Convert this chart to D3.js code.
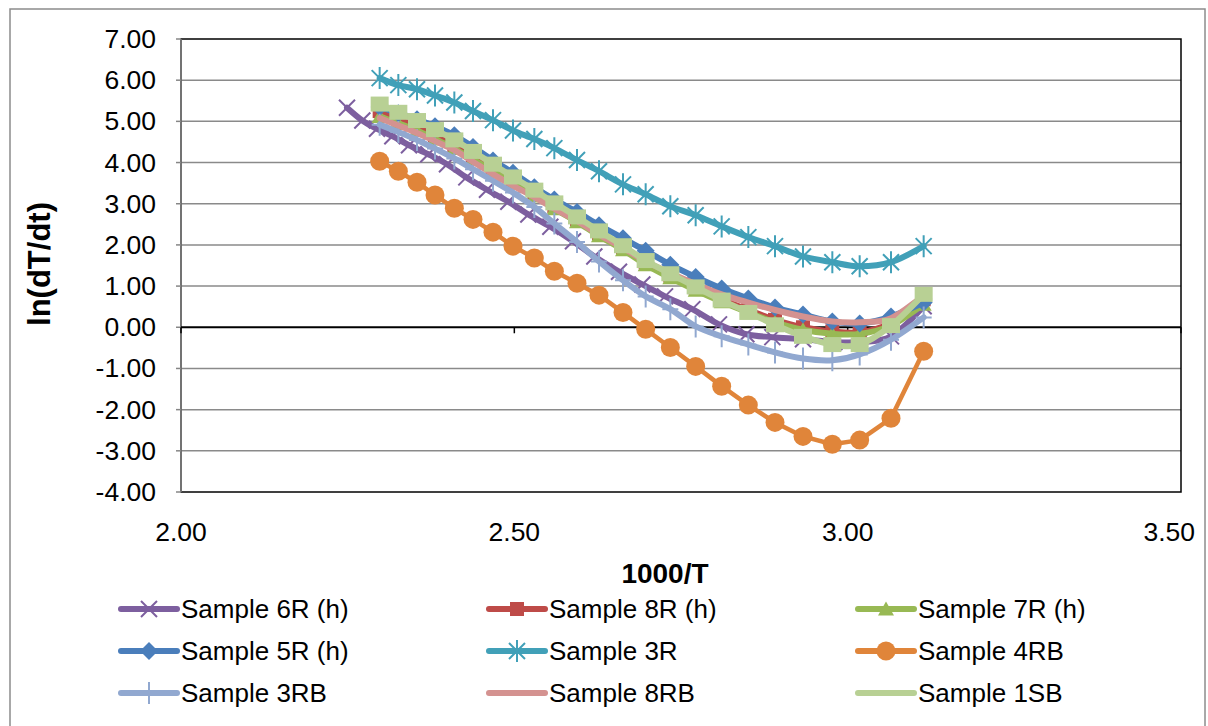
<!DOCTYPE html>
<html>
<head>
<meta charset="utf-8">
<script src="https://cdn.jsdelivr.net/npm/d3@7"></script>
<style>
body { margin: 0; background: #fff; }
svg { display: block; font-family: Arial, "Liberation Sans", sans-serif; }
</style>
</head>
<body>
<svg id="chart" width="1208" height="726"></svg>
<script>

// x values (1000/T) shared by most series
const xMain = [2.298, 2.326, 2.354, 2.381, 2.410, 2.438, 2.468, 2.498, 2.530, 2.560, 2.594, 2.627,
	2.663, 2.697, 2.734, 2.772, 2.811, 2.851, 2.891, 2.933, 2.977, 3.018, 3.065, 3.114];
// sample 6R was logged on its own temperature steps
const x6R = [2.249, 2.272, 2.294, 2.317, 2.342, 2.371, 2.399, 2.428, 2.459, 2.491, 2.521, 2.554, 2.588,
	2.620, 2.657, 2.692, 2.726, 2.767, 2.807, 2.848, 2.887, 2.933, 2.980, 3.018, 3.065, 3.114];

const y6R = [5.33, 5.02, 4.82, 4.64, 4.42, 4.20, 3.96, 3.64, 3.34, 3.05, 2.74, 2.44, 2.09, 1.72, 1.35,
	1.04, 0.75, 0.44, 0.07, -0.17, -0.24, -0.29, -0.36, -0.36, -0.22, 0.51];
const y8R = [5.25, 5.05, 4.88, 4.66, 4.42, 4.15, 3.86, 3.56, 3.25, 2.94, 2.62, 2.28, 1.94, 1.58, 1.26,
	0.96, 0.68, 0.42, 0.18, 0.00, -0.10, -0.12, 0.10, 0.68];
const y7R = [5.12, 4.95, 4.78, 4.57, 4.34, 4.08, 3.79, 3.50, 3.19, 2.88, 2.56, 2.22, 1.88, 1.52, 1.20,
	0.90, 0.62, 0.36, 0.12, -0.06, -0.16, -0.16, 0.04, 0.56];
const y5R = [5.35, 5.20, 5.05, 4.88, 4.66, 4.38, 4.05, 3.75, 3.40, 3.10, 2.80, 2.48, 2.16, 1.86, 1.52,
	1.22, 0.94, 0.70, 0.48, 0.31, 0.14, 0.09, 0.26, 0.60];
const y3R = [6.05, 5.88, 5.78, 5.63, 5.46, 5.25, 5.03, 4.78, 4.57, 4.35, 4.06, 3.79, 3.47, 3.23, 2.94,
	2.72, 2.45, 2.19, 1.97, 1.72, 1.58, 1.48, 1.58, 1.97];
const y4RB = [4.03, 3.79, 3.52, 3.21, 2.89, 2.62, 2.31, 1.97, 1.68, 1.36, 1.07, 0.78, 0.36, -0.05, -0.49,
	-0.95, -1.43, -1.89, -2.31, -2.65, -2.84, -2.74, -2.21, -0.58];
const y3RB = [4.92, 4.74, 4.55, 4.34, 4.10, 3.84, 3.56, 3.27, 2.92, 2.52, 2.07, 1.60, 1.14, 0.75, 0.44,
	0.02, -0.22, -0.42, -0.61, -0.76, -0.80, -0.66, -0.30, 0.24];
const y8RB = [5.08, 4.90, 4.72, 4.52, 4.30, 4.02, 3.72, 3.44, 3.16, 2.88, 2.58, 2.25, 1.93, 1.60, 1.32,
	1.05, 0.80, 0.60, 0.42, 0.26, 0.14, 0.12, 0.22, 0.78];
const y1SB = [5.42, 5.22, 5.02, 4.80, 4.55, 4.27, 3.96, 3.65, 3.33, 3.02, 2.68, 2.34, 1.98, 1.62, 1.30,
	0.98, 0.66, 0.36, 0.06, -0.22, -0.42, -0.42, 0.04, 0.80];

const seriesNames = ["Sample 6R (h)", "Sample 8R (h)", "Sample 7R (h)", "Sample 5R (h)", "Sample 3R",
	"Sample 4RB", "Sample 3RB", "Sample 8RB", "Sample 1SB"];
const yTicks = [-4, -3, -2, -1, 0, 1, 2, 3, 4, 5, 6, 7];
const xTicks = [2.0, 2.5, 3.0, 3.5];

// styling for each series, in legend order
const series = [
	{xs: x6R, ys: y6R, color: "#7d5f9f", marker: "x", smooth: true},
	{xs: xMain, ys: y8R, color: "#be4b48", marker: "square", smooth: true},
	{xs: xMain, ys: y7R, color: "#98b954", marker: "triangle", smooth: true},
	{xs: xMain, ys: y5R, color: "#4a7ebb", marker: "diamond", smooth: true},
	{xs: xMain, ys: y3R, color: "#41a0b8", marker: "asterisk", smooth: true},
	{xs: xMain, ys: y4RB, color: "#e0853a", marker: "circle", smooth: false},
	{xs: xMain, ys: y3RB, color: "#91a8d0", marker: "plus", smooth: true},
	{xs: xMain, ys: y8RB, color: "#d49290", marker: null, smooth: true},
	{xs: xMain, ys: y1SB, color: "#b8d094", marker: "bigsquare", legendMarker: null, smooth: true}
].map((s, i) => Object.assign(s, {name: seriesNames[i]}));

const svg = d3.select("#chart");

// outer chart border
svg.append("rect")
	.attr("x", 10).attr("y", 9).attr("width", 1195).attr("height", 740)
	.attr("fill", "#fff").attr("stroke", "#8c8c8c").attr("stroke-width", 1.5);

const xScale = d3.scaleLinear().domain([2, 3.5]).range([181, 1181]);
const yScale = d3.scaleLinear().domain([-4, 7]).range([492, 39]);

// horizontal gridlines
svg.append("g").selectAll("line").data(yTicks.filter(t => t !== 0 && t !== 7 && t !== -4)).enter()
	.append("line")
	.attr("x1", xScale(2)).attr("x2", xScale(3.5))
	.attr("y1", d => yScale(d)).attr("y2", d => yScale(d))
	.attr("stroke", "#8a8a8a").attr("stroke-width", 1.5);

// plot frame
svg.append("rect")
	.attr("x", xScale(2)).attr("y", yScale(7))
	.attr("width", xScale(3.5) - xScale(2)).attr("height", yScale(-4) - yScale(7))
	.attr("fill", "none").attr("stroke", "#000").attr("stroke-width", 1.5);

// vertical axis line and ticks
svg.append("line")
	.attr("x1", xScale(2)).attr("x2", xScale(2)).attr("y1", yScale(7)).attr("y2", yScale(-4))
	.attr("stroke", "#868686").attr("stroke-width", 1.5);
svg.append("g").selectAll("line").data(yTicks).enter()
	.append("line")
	.attr("x1", xScale(2) - 5).attr("x2", xScale(2))
	.attr("y1", d => yScale(d)).attr("y2", d => yScale(d))
	.attr("stroke", "#868686").attr("stroke-width", 1.5);

// horizontal axis sits on y = 0
svg.append("line")
	.attr("x1", xScale(2)).attr("x2", xScale(3.5)).attr("y1", yScale(0)).attr("y2", yScale(0))
	.attr("stroke", "#000").attr("stroke-width", 2);
svg.append("g").selectAll("line").data(xTicks).enter()
	.append("line")
	.attr("x1", d => xScale(d)).attr("x2", d => xScale(d))
	.attr("y1", yScale(0)).attr("y2", yScale(0) + 6)
	.attr("stroke", "#000").attr("stroke-width", 1.5);

// tick labels (the last x label is pulled inside the chart, as the original does)
svg.append("g").selectAll("text").data(yTicks).enter()
	.append("text")
	.attr("x", 156).attr("y", d => yScale(d) + 9)
	.attr("text-anchor", "end").attr("font-size", 26.5).attr("fill", "#000")
	.text(d => d.toFixed(2));
svg.append("g").selectAll("text").data(xTicks).enter()
	.append("text")
	.attr("x", (d, i) => i === xTicks.length - 1 ? 1195 : xScale(d))
	.attr("y", 541)
	.attr("text-anchor", (d, i) => i === xTicks.length - 1 ? "end" : "middle")
	.attr("font-size", 26.5).attr("fill", "#000")
	.text(d => d.toFixed(2));

// axis titles
svg.append("text")
	.attr("x", 665).attr("y", 583)
	.attr("text-anchor", "middle").attr("font-size", 28).attr("font-weight", "bold")
	.text("1000/T");
svg.append("text")
	.attr("transform", "translate(50,264) rotate(-90)")
	.attr("text-anchor", "middle").attr("font-size", 31).attr("font-weight", "bold")
	.text("ln(dT/dt)");

function drawMarker(g, kind, color) {
	if (kind === "x") {
		g.append("path").attr("d", "M-8,-8L8,8M-8,8L8,-8")
			.attr("stroke", color).attr("stroke-width", 2).attr("fill", "none");
	} else if (kind === "asterisk") {
		g.append("path").attr("d", "M-8,-8L8,8M-8,8L8,-8M0,-11L0,11")
			.attr("stroke", color).attr("stroke-width", 2).attr("fill", "none");
	} else if (kind === "plus") {
		g.append("path").attr("d", "M-8,0L8,0M0,-11L0,11")
			.attr("stroke", color).attr("stroke-width", 2).attr("fill", "none");
	} else if (kind === "square") {
		g.append("rect").attr("x", -7).attr("y", -7).attr("width", 14).attr("height", 14)
			.attr("fill", color);
	} else if (kind === "bigsquare") {
		g.append("rect").attr("x", -9).attr("y", -7.5).attr("width", 18).attr("height", 15)
			.attr("fill", color);
	} else if (kind === "triangle") {
		g.append("path").attr("d", "M0,-7.5L8,6.5L-8,6.5Z").attr("fill", color);
	} else if (kind === "diamond") {
		g.append("path").attr("d", "M0,-9L9,0L0,9L-9,0Z").attr("fill", color);
	} else if (kind === "circle") {
		g.append("circle").attr("r", 9.5).attr("fill", color);
	}
}

const smoothLine = d3.line().x(d => xScale(d[0])).y(d => yScale(d[1])).curve(d3.curveCardinal.tension(0));
const straightLine = d3.line().x(d => xScale(d[0])).y(d => yScale(d[1]));

const plot = svg.append("g");
series.forEach(s => {
	const pts = s.xs.map((x, i) => [x, s.ys[i]]);
	const g = plot.append("g");
	g.append("path")
		.attr("d", (s.smooth ? smoothLine : straightLine)(pts))
		.attr("fill", "none").attr("stroke", s.color)
		.attr("stroke-width", s.marker === "circle" ? 4.5 : 6)
		.attr("stroke-linejoin", "round").attr("stroke-linecap", "round");
	if (s.marker) {
		g.selectAll("g.mk").data(pts).enter()
			.append("g").attr("class", "mk")
			.attr("transform", d => `translate(${xScale(d[0])},${yScale(d[1])})`)
			.each(function() { drawMarker(d3.select(this), s.marker, s.color); });
	}
});

// legend: three columns, three rows
const legendCols = [149, 517, 886];
const legendRows = [609, 651, 693];
series.forEach((s, i) => {
	const cx = legendCols[i % 3], cy = legendRows[Math.floor(i / 3)];
	const g = svg.append("g").attr("transform", `translate(${cx},${cy})`);
	g.append("line").attr("x1", -28).attr("x2", 28)
		.attr("stroke", s.color).attr("stroke-width", 6).attr("stroke-linecap", "round");
	const lm = s.legendMarker !== undefined ? s.legendMarker : s.marker;
	if (lm) drawMarker(g, lm, s.color);
	g.append("text").attr("x", 32).attr("y", 9)
		.attr("font-size", 26).attr("fill", "#000")
		.text(s.name);
});
</script>
</body>
</html>
